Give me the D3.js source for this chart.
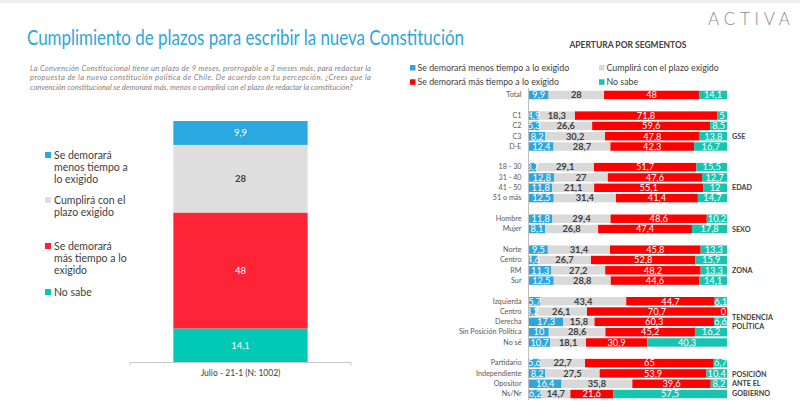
<!DOCTYPE html>
<html><head><meta charset="utf-8">
<script src="https://cdn.jsdelivr.net/npm/d3@7/dist/d3.min.js"></script>
<style>
html,body{margin:0;padding:0;background:#fff;}
svg{display:block;font-family:Lato,"Open Sans",sans-serif;}
</style></head>
<body>
<svg id="chart" width="800" height="415"></svg>
<script>
// ---------- DATA ----------
const seriesNames = ["Se demorará menos tiempo a lo exigido","Cumplirá con el plazo exigido","Se demorará más tiempo a lo exigido","No sabe"];
const leftLegendLines = [["Se demorará","menos tiempo a","lo exigido"],["Cumplirá con el","plazo exigido"],["Se demorará","más tiempo a lo","exigido"],["No sabe"]];
const leftCategory = ["Julio - 21-1 (N: 1002)"];
const leftValues = [9.9, 28, 48, 14.1];

const rowLabels = ["Total","C1","C2","C3","D-E","18 - 30","31 - 40","41 - 50","51 o más","Hombre","Mujer","Norte","Centro","RM","Sur","Izquierda","Centro","Derecha","Sin Posición Política","No sé","Partidario","Independiente","Opositor","Ns/Nr"];
const rowGroup  = [0,1,1,1,1,2,2,2,2,3,3,4,4,4,4,5,5,5,5,5,6,6,6,6];
const groupNames = [[""],["GSE"],["EDAD"],["SEXO"],["ZONA"],["TENDENCIA","POLÍTICA"],["POSICIÓN","ANTE EL","GOBIERNO"]];
const menos    = [9.9,4.9,5.3,8.2,12.4,3.7,12.8,11.8,12.5,11.8,8.1,9.5,4.6,11.3,12.5,5.7,3.2,17.3,10,10.7,5.6,8.2,16.4,6.2];
const cumplira = [28,18.3,26.6,30.2,28.7,29.1,27,21.1,31.4,29.4,26.8,31.4,26.7,27.2,28.8,43.4,26.1,15.8,28.6,18.1,22.7,27.5,35.8,14.7];
const mas      = [48,71.8,59.6,47.8,42.3,51.7,47.6,55.1,41.4,48.6,47.4,45.8,52.8,48.2,44.6,44.7,70.7,60.3,45.2,30.9,65,53.9,39.6,21.6];
const noSabe   = [14.1,5,8.5,13.8,16.7,15.5,12.7,12,14.7,10.2,17.8,13.3,15.9,13.3,14.1,6.1,0,6.6,16.2,40.3,6.7,10.4,8.2,57.5];

const title = "Cumplimiento de plazos para escribir la nueva Constitución";
const introLines = ["La Convención Constitucional tiene un plazo de 9 meses, prorrogable a 3 meses más, para redactar la",
 "propuesta de la nueva constitución política de Chile. De acuerdo con tu percepción, ¿Crees que la",
 "convención constitucional se demorará más, menos o cumplirá con el plazo de redactar la constitución?"];
const rightHeader = "APERTURA POR SEGMENTOS";
const logo = "ACTIVA";

// ---------- STYLE ----------
const leftColors  = ["#2aa9e0","#dedede","#fe2437","#00c9b5"];
const rightColors = ["#2ea6dc","#d9d9d9","#ff0000","#18c4b0"];
const labelColors = ["#ffffff","#404040","#ffffff","#ffffff"];

const svg = d3.select("#chart");
svg.append("rect").attr("x",0).attr("y",0).attr("width",800).attr("height",3).attr("fill","#eeeeee");

// logo
svg.append("text").attr("x",708).attr("y",25)
  .attr("font-size",17).attr("font-weight",300).attr("fill","#8a8a8a")
  .attr("textLength",82).attr("lengthAdjust","spacing").text(logo);

// title
svg.append("text").attr("x",27).attr("y",45).attr("font-size",21)
  .attr("fill","#2ea6dc").attr("textLength",437).attr("lengthAdjust","spacingAndGlyphs").text(title);

// intro
const intro = svg.append("g").attr("font-size",7.6).attr("font-style","italic").attr("fill","#7f7f7f");
introLines.forEach((l,i)=>{
  const tx = intro.append("text").attr("x",30).attr("y",71+i*9.3).text(l);
  if(i<2) tx.attr("textLength",341).attr("lengthAdjust","spacing");
});

// ---------- LEFT CHART ----------
const xL = d3.scaleBand().domain(leftCategory).range([130,351]).paddingInner(0.39).paddingOuter(0.197);
const yL = d3.scaleLinear().domain([0,100]).range([362.5,121]);
const leftG = svg.append("g");
let cum = 0;
const order = [3,2,1,0];
const segs = [];
order.forEach(k=>{ segs.push({k, y0:cum, y1:cum+leftValues[k], v:leftValues[k]}); cum+=leftValues[k]; });
leftG.selectAll("rect").data(segs).join("rect")
  .attr("x",xL(leftCategory[0])).attr("width",xL.bandwidth())
  .attr("y",d=>yL(d.y1)).attr("height",d=>yL(d.y0)-yL(d.y1))
  .attr("fill",d=>leftColors[d.k]);
leftG.selectAll("text").data(segs).join("text")
  .attr("x",xL(leftCategory[0])+xL.bandwidth()/2).attr("y",d=>(yL(d.y0)+yL(d.y1))/2+3.3)
  .attr("text-anchor","middle").attr("font-size",9.5)
  .attr("font-weight",d=>d.k===1?700:400)
  .attr("fill",d=>labelColors[d.k]).text(d=>String(d.v).replace(".",","));
// axis
const axL = svg.append("g").attr("transform","translate(0,362.5)")
  .call(d3.axisBottom(xL).tickSize(0).tickPadding(7));
axL.select(".domain").attr("stroke","#c8c8c8").attr("d","M130,3V0H351V3");
axL.selectAll("text").attr("font-family","Lato,'Open Sans',sans-serif").attr("font-size",8.5).attr("fill","#404040");

// left legend
const legY = [155,200,246,292];
const lg = svg.append("g").attr("font-size",10.5).attr("fill","#404040");
leftLegendLines.forEach((lines,k)=>{
  lg.append("rect").attr("x",45).attr("y",legY[k]-3).attr("width",6).attr("height",6).attr("fill",leftColors[k]);
  lines.forEach((l,j)=>{
    lg.append("text").attr("x",54).attr("y",legY[k]+3.7+j*12.3).text(l);
  });
});

// ---------- RIGHT CHART ----------
svg.append("text").attr("x",628).attr("y",48).attr("text-anchor","middle")
  .attr("font-size",8.5).attr("font-weight",700).attr("fill","#404040").text(rightHeader);

const rl = svg.append("g").attr("font-size",8.8).attr("fill","#404040");
const rlPos = [[413,67.7],[602,67.7],[413,82],[602,82]];
seriesNames.forEach((n,k)=>{
  rl.append("rect").attr("x",rlPos[k][0]-3).attr("y",rlPos[k][1]-2.7).attr("width",5.5).attr("height",5.5).attr("fill",rightColors[k]);
  rl.append("text").attr("x",rlPos[k][0]+4.5).attr("y",rlPos[k][1]+3).text(n);
});

// band domain with spacer slots between groups
const slots = [];
rowLabels.forEach((r,i)=>{
  if(i>0 && rowGroup[i]!==rowGroup[i-1]) slots.push("sp"+i);
  slots.push("r"+i);
});
const yR = d3.scaleBand().domain(slots).range([89.8,399.2]).paddingInner(0.18).paddingOuter(0.09);
const xR = d3.scaleLinear().domain([0,100]).range([529,727]);

const rows = rowLabels.map((r,i)=>({i, label:r, vals:[menos[i],cumplira[i],mas[i],noSabe[i]]}));
const segR = [];
rows.forEach(r=>{
  let c=0;
  r.vals.forEach((v,k)=>{ segR.push({i:r.i,k,x0:c,x1:c+v,v}); c+=v; });
});
const rg = svg.append("g");
rg.selectAll("rect").data(segR).join("rect")
  .attr("x",d=>xR(d.x0)).attr("width",d=>Math.max(0,xR(d.x1)-xR(d.x0)))
  .attr("y",d=>yR("r"+d.i)).attr("height",yR.bandwidth())
  .attr("fill",d=>rightColors[d.k]);
rg.selectAll("text").data(segR).join("text")
  .attr("x",d=>Math.min((xR(d.x0)+xR(d.x1))/2, 723.5))
  .attr("y",d=>yR("r"+d.i)+yR.bandwidth()/2+3.3)
  .attr("text-anchor","middle").attr("font-size",9.3)
  .attr("font-weight",d=>d.k===1?700:400)
  .attr("fill",d=>labelColors[d.k])
  .text(d=>String(d.v).replace(".",","));

// y axis
const axR = svg.append("g").attr("transform","translate(528.5,0)")
  .call(d3.axisLeft(yR).tickSize(0).tickPadding(7).tickFormat(s=> s[0]==="r" ? rowLabels[+s.slice(1)] : ""));
axR.select(".domain").attr("stroke","#bfbfbf").attr("d","M0,88V400");
axR.selectAll("text").attr("font-family","Lato,'Open Sans',sans-serif").attr("font-size",7.2).attr("fill","#595959");

// group labels
const gl = svg.append("g").attr("font-size",7.2).attr("font-weight",700).attr("fill","#404040");
groupNames.forEach((lines,g)=>{
  if(!lines[0]) return;
  const idx = rowGroup.map((v,i)=>v===g?i:-1).filter(i=>i>=0);
  const ref = idx[Math.floor(idx.length/2)];
  const mid = yR("r"+ref)+yR.bandwidth()/2;
  const lh = 9.3;
  lines.forEach((l,j)=>{
    gl.append("text").attr("x",732).attr("y",mid-(lines.length-1)*lh/2+j*lh+2.6).text(l);
  });
});
</script>
</body></html>
